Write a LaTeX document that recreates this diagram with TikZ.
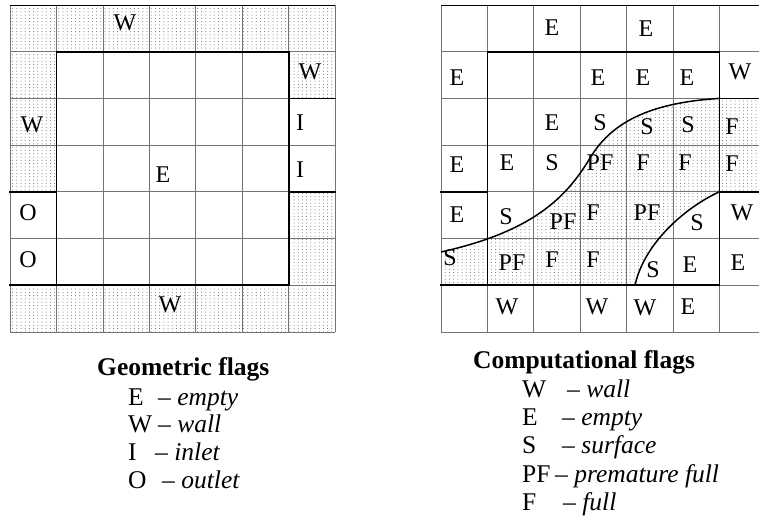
\documentclass[tikz,border=0pt]{standalone}
\usepackage{fontspec}
\setmainfont{Liberation Serif}
\usetikzlibrary{patterns}
\pgfdeclarepatternformonly{sparsedots}{\pgfqpoint{-1pt}{-1pt}}{\pgfqpoint{1pt}{1pt}}{\pgfqpoint{4.2pt}{3.3pt}}{%
  \pgfpathcircle{\pgfqpoint{0pt}{0pt}}{0.5pt}\pgfusepath{fill}}
\begin{document}
\begin{tikzpicture}[x=1pt,y=-1pt,
  thingrid/.style={draw=black!55,line width=0.7pt},
  thickline/.style={line width=1.8pt,line cap=rect},
  dotfill/.style={pattern=sparsedots,pattern color=black!60},
  lab/.style={inner sep=0pt,font=\fontsize{24}{26}\selectfont},
  head/.style={inner sep=0pt,anchor=base west,font=\fontsize{25.5}{28}\selectfont\bfseries},
  key/.style={inner sep=0pt,anchor=base west,font=\fontsize{25.5}{28}\selectfont}]
\useasboundingbox (0,0) rectangle (759,520);
\fill[white] (0,0) rectangle (759,520);
\clip (0,0) rectangle (759,520);

% ---------------- left grid: geometric flags ----------------
\fill[dotfill] (10,5) rectangle (335,51.7);
\fill[dotfill] (10,51.7) rectangle (56.4,191.8);
\fill[dotfill] (288.6,51.7) rectangle (335,98.4);
\fill[dotfill] (288.6,191.8) rectangle (335,285.2);
\fill[dotfill] (10,285.2) rectangle (335,332);
\foreach \i in {0,...,7}{
  \draw[thingrid] ({10+46.43*\i},5) -- ({10+46.43*\i},332);
  \draw[thingrid] (10,{5+46.7*\i}) -- (335,{5+46.7*\i});
}
\draw[line width=0.9pt] (10,5) -- (335,5);
\draw[thickline] (56.4,51.7) rectangle (288.6,285.2);
\draw[thickline] (10,191.8) -- (56.4,191.8);
\draw[thickline] (10,285.2) -- (56.4,285.2);
\draw[thickline] (288.6,98.4) -- (335,98.4);
\draw[thickline] (288.6,191.8) -- (335,191.8);

\node[lab] (g1) at (125,23) {W};
\node[lab] (g2) at (32,125) {W};
\node[lab] (g3) at (310,72) {W};
\node[lab] (g4) at (300,123) {I};
\node[lab] (g5) at (300,170) {I};
\node[lab] (g6) at (163,175) {E};
\node[lab] (g7) at (28,213) {O};
\node[lab] (g8) at (28,260) {O};
\node[lab] (g9) at (170,305) {W};

% ---------------- right grid: computational flags ----------------
\fill[dotfill] (441,252) .. controls (530,232) and (565,200) .. (590,158)
  .. controls (610,125) and (645,103) .. (719.4,98.4)
  -- (766,98.4) -- (766,191.8) -- (719.4,191.8)
  .. controls (690,205) and (645,240) .. (635,285.2)
  -- (441,285.2) -- cycle;
\foreach \i in {0,...,7}{
  \draw[thingrid] ({441+46.4*\i},5) -- ({441+46.4*\i},332);
  \draw[thingrid] (441,{5+46.7*\i}) -- (766,{5+46.7*\i});
}
\draw[line width=0.9pt] (441,5) -- (766,5);
\draw[thickline] (487.4,51.7) rectangle (719.4,285.2);
\draw[thickline] (441,191.8) -- (487.4,191.8);
\draw[thickline] (441,285.2) -- (487.4,285.2);
\draw[thickline] (719.4,98.4) -- (766,98.4);
\draw[thickline] (719.4,191.8) -- (766,191.8);
\draw[line width=1.5pt] (441,252) .. controls (530,232) and (565,200) .. (590,158)
  .. controls (610,125) and (645,103) .. (719.4,98.4);
\draw[line width=1.5pt] (719.4,191.8) .. controls (690,205) and (645,240) .. (635,285.2);

% row 0
\node[lab] (c01) at (552,28) {E};
\node[lab] (c02) at (646,29) {E};
% row 1
\node[lab] (c11) at (457,78) {E};
\node[lab] (c12) at (598,78) {E};
\node[lab] (c13) at (643,78) {E};
\node[lab] (c14) at (687,78) {E};
\node[lab] (c15) at (740,72) {W};
% row 2
\node[lab] (c21) at (552,123) {E};
\node[lab] (c22) at (600,123) {S};
\node[lab] (c23) at (647,127) {S};
\node[lab] (c24) at (688,125) {S};
\node[lab] (c25) at (732,127) {F};
% row 3
\node[lab] (c31) at (457,165) {E};
\node[lab] (c32) at (507,163) {E};
\node[lab] (c33) at (552,163) {S};
\node[lab] (c34) at (600,163) {PF};
\node[lab] (c35) at (643,163) {F};
\node[lab] (c36) at (685,163) {F};
\node[lab] (c37) at (732,164) {F};
% row 4
\node[lab] (c41) at (457,215) {E};
\node[lab] (c42) at (506,217) {S};
\node[lab] (c43) at (563,222) {PF};
\node[lab] (c44) at (593,213) {F};
\node[lab] (c45) at (647,213) {PF};
\node[lab] (c46) at (697,223) {S};
\node[lab] (c47) at (742,213) {W};
% row 5
\node[lab] (c51) at (450,258) {S};
\node[lab] (c52) at (512,263) {PF};
\node[lab] (c53) at (552,260) {F};
\node[lab] (c54) at (593,260) {F};
\node[lab] (c55) at (653,270) {S};
\node[lab] (c56) at (690,265) {E};
\node[lab] (c57) at (738,263) {E};
% row 6
\node[lab] (c61) at (507,307) {W};
\node[lab] (c62) at (597,307) {W};
\node[lab] (c63) at (645,308) {W};
\node[lab] (c64) at (688,307) {E};

% ---------------- legends ----------------
\node[head] (gh) at (97,375) {Geometric flags};
\node[key] (ge) at (128,405) {E};
\node[key] (ged) at (158,405) {– \textit{empty}};
\node[key] (gw) at (128,432) {W};
\node[key] (gwd) at (158,432) {– \textit{wall}};
\node[key] (gi) at (128,460) {I};
\node[key] (gid) at (155,460) {– \textit{inlet}};
\node[key] (go) at (128,488) {O};
\node[key] (god) at (162,488) {– \textit{outlet}};

\node[head] (ch) at (473,368) {Computational flags};
\node[key] (cw) at (522,397) {W};
\node[key] (cwd) at (567,397) {– \textit{wall}};
\node[key] (ce) at (522,425) {E};
\node[key] (ced) at (562,425) {– \textit{empty}};
\node[key] (cs) at (522,453) {S};
\node[key] (csd) at (562,453) {– \textit{surface}};
\node[key] (cp) at (522,482) {PF};
\node[key] (cpd) at (555,482) {– \textit{premature full}};
\node[key] (cf) at (522,510) {F};
\node[key] (cfd) at (563,510) {– \textit{full}};
\end{tikzpicture}
\end{document}
